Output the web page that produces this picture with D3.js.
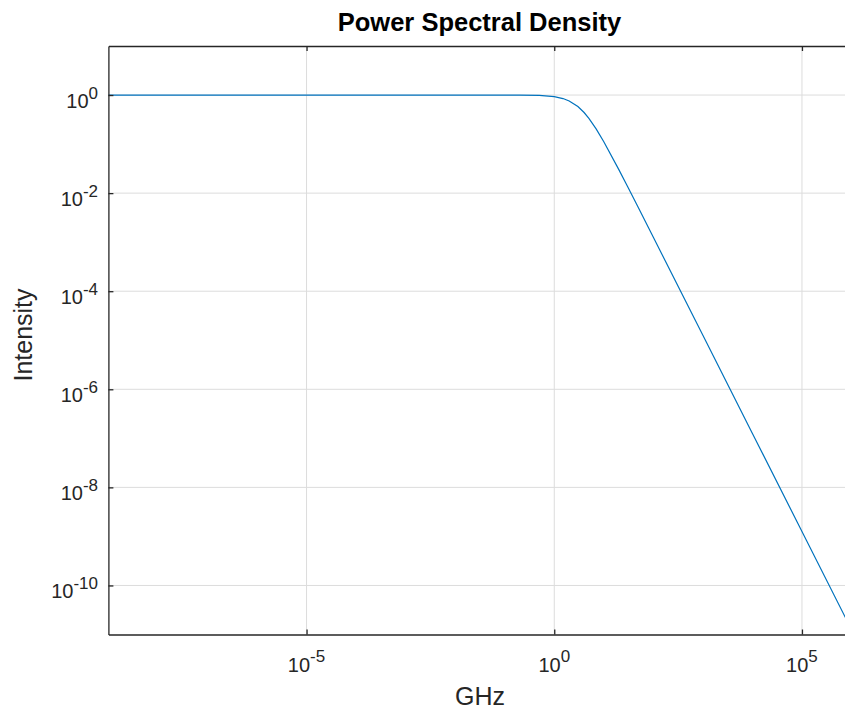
<!DOCTYPE html>
<html>
<head>
<meta charset="utf-8">
<script src="https://cdn.jsdelivr.net/npm/d3@7"></script>
<style>
  html, body { margin: 0; padding: 0; background: #fff; }
  svg { display: block; font-family: "Liberation Sans", Arial, Helvetica, sans-serif; }
</style>
</head>
<body>
<div id="chart"></div>
<script>
// ---- data ----
const freqGHz = [1e-9, 1e-1, 0.2, 0.5, 1, 1.5, 2, 3, 4, 5, 7, 10, 20, 30, 50, 100, 1e3, 1e4, 1e5, 1e6];
const intensity = [1, 0.9992, 0.9968, 0.9805, 0.9265, 0.8485, 0.759, 0.583, 0.4406, 0.3351, 0.2046, 0.1119, 0.03054, 0.01381, 0.005015, 0.001259, 1.26e-5, 1.26e-7, 1.26e-9, 1.26e-11];
const xTickExps = [-5, 0, 5];
const yTickExps = [0, -2, -4, -6, -8, -10];
const xDomain = [1e-9, 1e6];
const yDomain = [1e-11, 1e1];
const titleText = "Power Spectral Density";
const xLabelText = "GHz";
const yLabelText = "Intensity";

// ---- layout ----
const W = 845, H = 713;
const pLeft = 108.4, pRight = 851.5, pTop = 46, pBottom = 634.5;
const axisColor = "#262626";
const gridColor = "#dcdcdc";
const lineColor = "#0072BD";

const svg = d3.select("#chart").append("svg").attr("width", W).attr("height", H);

const x = d3.scaleLog().domain(xDomain).range([pLeft, pRight]);
const y = d3.scaleLog().domain(yDomain).range([pBottom, pTop]);

const xTicks = xTickExps.map(e => Math.pow(10, e));
const yTicks = yTickExps.map(e => Math.pow(10, e));

// grid
const grid = svg.append("g");
grid.selectAll("line.gx").data(xTicks).join("line").attr("class", "gx")
  .attr("x1", d => x(d)).attr("x2", d => x(d))
  .attr("y1", pTop).attr("y2", pBottom)
  .attr("stroke", gridColor).attr("stroke-width", 1);
grid.selectAll("line.gy").data(yTicks).join("line").attr("class", "gy")
  .attr("y1", d => y(d)).attr("y2", d => y(d))
  .attr("x1", pLeft).attr("x2", pRight)
  .attr("stroke", gridColor).attr("stroke-width", 1);

// clip
svg.append("clipPath").attr("id", "plotclip").append("rect")
  .attr("x", pLeft).attr("y", pTop).attr("width", pRight - pLeft).attr("height", pBottom - pTop);

// line
const pts = freqGHz.map((f, i) => [f, intensity[i]]);
svg.append("path")
  .datum(pts)
  .attr("clip-path", "url(#plotclip)")
  .attr("fill", "none")
  .attr("stroke", lineColor)
  .attr("stroke-width", 1.2)
  .attr("d", d3.line().x(d => x(d[0])).y(d => y(d[1])));

// axes (ticks inward, no labels)
function styleAxis(g) {
  g.select(".domain").attr("stroke", axisColor).attr("stroke-width", 1.3);
  g.selectAll(".tick line").attr("stroke", axisColor).attr("stroke-width", 1.3);
  g.selectAll(".tick text").remove();
}
svg.append("g").attr("transform", `translate(0,${pBottom})`)
  .call(d3.axisBottom(x).tickValues(xTicks).tickSizeInner(-5).tickSizeOuter(0).tickFormat(""))
  .call(styleAxis);
svg.append("g").attr("transform", `translate(0,${pTop})`)
  .call(d3.axisTop(x).tickValues(xTicks).tickSizeInner(-5).tickSizeOuter(0).tickFormat(""))
  .call(styleAxis);
svg.append("g").attr("transform", `translate(${pLeft},0)`)
  .call(d3.axisLeft(y).tickValues(yTicks).tickSizeInner(-5).tickSizeOuter(0).tickFormat(""))
  .call(styleAxis);
svg.append("g").attr("transform", `translate(${pRight},0)`)
  .call(d3.axisRight(y).tickValues(yTicks).tickSizeInner(-5).tickSizeOuter(0).tickFormat(""))
  .call(styleAxis);

// tick labels
const baseSize = 20, supSize = 17;
const xl = svg.append("g").attr("fill", axisColor);
xTickExps.forEach(e => {
  const t = xl.append("text")
    .attr("x", x(Math.pow(10, e))).attr("y", 672)
    .attr("text-anchor", "middle").attr("font-size", baseSize);
  t.append("tspan").text("10");
  t.append("tspan").attr("dy", -10).attr("font-size", supSize).text(String(e));
});
const yl = svg.append("g").attr("fill", axisColor);
yTickExps.forEach(e => {
  const t = yl.append("text")
    .attr("x", 98).attr("y", y(Math.pow(10, e)) + 13)
    .attr("text-anchor", "end").attr("font-size", baseSize);
  t.append("tspan").text("10");
  t.append("tspan").attr("dy", -9).attr("font-size", supSize).text(String(e));
});

// title & axis labels
svg.append("text").attr("x", 479.5).attr("y", 31)
  .attr("text-anchor", "middle").attr("font-size", 25.5).attr("font-weight", "bold")
  .attr("fill", "#000").text(titleText);
svg.append("text").attr("x", 480).attr("y", 705)
  .attr("text-anchor", "middle").attr("font-size", 25)
  .attr("fill", axisColor).text(xLabelText);
svg.append("text")
  .attr("transform", "translate(31.5,335) rotate(-90)")
  .attr("text-anchor", "middle").attr("font-size", 25)
  .attr("fill", axisColor).text(yLabelText);
</script>
</body>
</html>
